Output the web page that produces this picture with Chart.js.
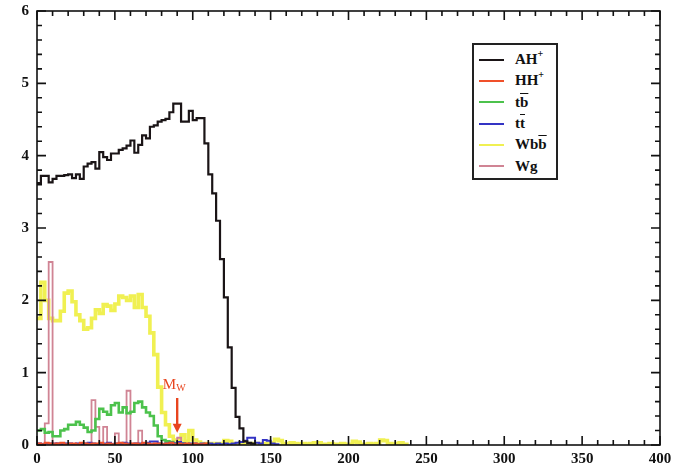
<!DOCTYPE html>
<html lang="en">
<head>
<meta charset="UTF-8">
<title>AH+ signal and backgrounds</title>
<script src="https://cdn.jsdelivr.net/npm/chart.js"></script>
<style>
  html, body { margin: 0; padding: 0; background: #fff; }
  .wrap { position: relative; width: 683px; height: 470px; }
  .legend {
    position: absolute; left: 472px; top: 43px; width: 86px; height: 137px;
    border: 2px solid #222; box-sizing: border-box; background: #fff;
    font-family: "Liberation Serif", "DejaVu Serif", serif; font-weight: bold;
    font-size: 15px; color: #111; padding-top: 4px;
  }
  .legend .row { height: 21.3px; display: flex; align-items: center; }
  .legend .sw { display: inline-block; width: 25px; height: 2px; margin: 0 11px 0 5px; }
  .legend .sup { font-size: 10px; position: relative; top: -6px; }
  .ov { text-decoration: overline; }
</style>
</head>
<body>
<div class="wrap">
  <canvas id="chart" width="683" height="470"></canvas>
  <div class="legend" id="legend"></div>
</div>

<script>
// histogram bins, width in x units
var binWidth = 2.5;
var xTicks = [0, 50, 100, 150, 200, 250, 300, 350, 400];
var yTicks = [0, 1, 2, 3, 4, 5, 6];

// series, one value per bin starting at x = 0
var ahPlus = [3.62,3.72,3.72,3.63,3.68,3.72,3.72,3.73,3.74,3.69,
              3.74,3.68,3.85,3.89,3.91,3.82,4.05,3.98,3.94,4.03,
              4.03,4.08,4.10,4.14,4.21,4.04,4.15,4.28,4.24,4.40,
              4.42,4.47,4.49,4.51,4.60,4.72,4.72,4.47,4.47,4.62,
              4.49,4.52,4.52,4.17,3.74,3.48,3.10,2.57,2.04,1.35,
              0.79,0.39,0.23,0.05,0.03,0.02];
var hhPlus = [0.02,0.01,0.03,0.02,0.01,0.02,0.03,0.01,0.02,0.02,
              0.01,0.03,0.02,0.01,0.02,0.02,0.03,0.01,0.02,0.01,
              0.02,0.03,0.02,0.01,0.02,0.02,0.01,0.03,0.02,0.01,
              0.02,0.02,0.01,0.02,0.03,0.01,0.02,0.01,0.02,0.01,
              0.02,0.01,0.01,0.02];
var tbBar = [0.20,0.22,0.17,0.18,0.12,0.12,0.20,0.22,0.28,0.28,
             0.32,0.28,0.24,0.18,0.20,0.36,0.50,0.46,0.42,0.55,
             0.58,0.45,0.52,0.44,0.46,0.58,0.60,0.52,0.45,0.40,
             0.27,0.12,0.07,0.05,0.04,0.02,0.02,0.02,0.01];
var ttBar = [0.02,0.01,0.02,0.02,0.01,0.02,0.01,0.02,0.02,0.01,
             0.02,0.01,0.02,0.03,0.02,0.01,0.02,0.02,0.03,0.01,
             0.02,0.02,0.03,0.02,0.01,0.02,0.02,0.01,0.03,0.05,
             0.05,0.02,0.01,0.02,0.03,0.02,0.04,0.02,0.01,0.02,
             0.02,0.01,0.02,0.01,0.02,0.01,0.02,0.01,0.02,0.01,
             0.02,0.03,0.04,0.06,0.10,0.10,0.03,0.02,0.07,0.06,
             0.02,0.01];
var wbbBar = [1.75,2.25,2.00,1.75,1.72,1.72,1.85,2.10,2.13,1.98,
              1.80,1.72,1.60,1.62,1.75,1.87,1.82,1.94,1.92,1.86,
              1.95,2.06,2.04,2.00,2.06,1.90,2.08,1.90,1.78,1.55,
              1.25,0.80,0.45,0.28,0.12,0.07,0.07,0.14,0.05,0.20,
              0.07,0.04,0.02,0.02,0.02,0.02,0.01,0.02,0.06,0.05,
              0.02,0.01,0.02,0.02,0.01,0.02,0.01,0.02,0.02,0.01,
              0.03,0.08,0.06,0.02,0.01,0.03,0.02,0.01,0.02,0.01,
              0.02,0.03,0.03,0.01,0.01,0.02,0.01,0.01,0.02,0.01,
              0.01,0.05,0.04,0.01,0.01,0.02,0.01,0.02,0.07,0.06,
              0.02,0.01,0.02,0.03,0.01];
var wg = [0.02,0.02,0.30,2.53,0.03,0.02,0.01,0.02,0.02,0.01,
          0.02,0.02,0.01,0.02,0.62,0.25,0.02,0.25,0.02,0.02,
          0.16,0.02,0.02,0.75,0.02,0.02,0.20,0.02,0.01,0.02,
          0.02,0.02,0.02,0.02,0.02,0.02,0.10,0.02];

var mwX = 90; // arrow position

var series = [
  { name: 'AH<span class="sup">+</span>', data: ahPlus, color: '#1a1416', width: 2.2, order: 1 },
  { name: 'HH<span class="sup">+</span>', data: hhPlus, color: '#f0502a', width: 2, order: 2 },
  { name: 't<span class="ov">b</span>', data: tbBar, color: '#4cc24c', width: 2.6, order: 4 },
  { name: 't<span class="ov">t</span>', data: ttBar, color: '#3434c4', width: 2, order: 3 },
  { name: 'Wb<span class="ov">b</span>', data: wbbBar, color: '#f0f052', width: 3.6, order: 6 },
  { name: 'Wg', data: wg, color: '#d08494', width: 1.8, order: 5 }
];

function toSteps(vals) {
  var pts = vals.map(function (v, i) { return { x: i * binWidth, y: v }; });
  pts.push({ x: vals.length * binWidth, y: 0 });
  return pts;
}

// legend as html
var legendHtml = '';
series.forEach(function (s) {
  legendHtml += '<div class="row"><span class="sw" style="background:' + s.color + '"></span>' + s.name + '</div>';
});
document.getElementById('legend').innerHTML = legendHtml;

var frameTicks = {
  id: 'frameTicks',
  afterDatasetsDraw: function (chart) {
    var ctx = chart.ctx, a = chart.chartArea, xs = chart.scales.x, ys = chart.scales.y;
    ctx.save();
    ctx.strokeStyle = '#111';
    ctx.lineWidth = 1.6;
    ctx.strokeRect(a.left, a.top, a.right - a.left, a.bottom - a.top);
    ctx.beginPath();
    for (var v = xs.min; v <= xs.max; v += 10) {
      var px = xs.getPixelForValue(v);
      var len = (v % 50 === 0) ? 9 : 5;
      ctx.moveTo(px, a.bottom); ctx.lineTo(px, a.bottom - len);
      ctx.moveTo(px, a.top); ctx.lineTo(px, a.top + len);
    }
    for (var i = 0; i <= 30; i++) {
      var py = ys.getPixelForValue(i * 0.2);
      var l = (i % 5 === 0) ? 9 : 5;
      ctx.moveTo(a.left, py); ctx.lineTo(a.left + l, py);
      ctx.moveTo(a.right, py); ctx.lineTo(a.right - l, py);
    }
    ctx.stroke();

    // M_W arrow
    var ax = xs.getPixelForValue(mwX);
    var yTop = ys.getPixelForValue(0.65), yTip = ys.getPixelForValue(0.17);
    ctx.strokeStyle = '#e8441e';
    ctx.fillStyle = '#e8441e';
    ctx.lineWidth = 2.4;
    ctx.beginPath();
    ctx.moveTo(ax, yTop); ctx.lineTo(ax, yTip - 7);
    ctx.stroke();
    ctx.beginPath();
    ctx.moveTo(ax - 4.5, yTip - 9); ctx.lineTo(ax + 4.5, yTip - 9); ctx.lineTo(ax, yTip);
    ctx.closePath(); ctx.fill();
    ctx.font = '15px "Liberation Serif", serif';
    ctx.textBaseline = 'alphabetic';
    ctx.textAlign = 'right';
    ctx.fillText('M', ax - 1, ys.getPixelForValue(0.78));
    ctx.textAlign = 'left';
    ctx.font = '10px "Liberation Serif", serif';
    ctx.fillText('W', ax - 1, ys.getPixelForValue(0.74));
    ctx.restore();
  }
};

var tickFont = { family: '"Liberation Serif", "DejaVu Serif", serif', size: 15, weight: 'bold' };

new Chart(document.getElementById('chart'), {
  type: 'line',
  data: {
    datasets: series.map(function (s) {
      return {
        label: s.name,
        data: toSteps(s.data),
        stepped: true,
        borderColor: s.color,
        borderWidth: s.width,
        pointRadius: 0,
        fill: false,
        order: s.order
      };
    })
  },
  options: {
    responsive: false,
    animation: false,
    layout: { padding: { top: 11, right: 23, left: 0, bottom: 0 } },
    plugins: { legend: { display: false }, tooltip: { enabled: false } },
    scales: {
      x: {
        type: 'linear', min: xTicks[0], max: xTicks[xTicks.length - 1],
        afterBuildTicks: function (scale) { scale.ticks = xTicks.map(function (v) { return { value: v }; }); },
        afterFit: function (scale) { scale.height = 25; scale.paddingLeft = 0; scale.paddingRight = 0; },
        ticks: { font: tickFont, color: '#111', padding: 5, maxRotation: 0, autoSkip: false },
        grid: { display: false, drawTicks: false },
        border: { display: false }
      },
      y: {
        min: yTicks[0], max: yTicks[yTicks.length - 1],
        afterBuildTicks: function (scale) { scale.ticks = yTicks.map(function (v) { return { value: v }; }); },
        afterFit: function (scale) { scale.width = 37; scale.paddingTop = 0; scale.paddingBottom = 0; },
        ticks: { font: tickFont, color: '#111', padding: 8 },
        grid: { display: false, drawTicks: false },
        border: { display: false }
      }
    }
  },
  plugins: [frameTicks]
});
</script>
</body>
</html>
